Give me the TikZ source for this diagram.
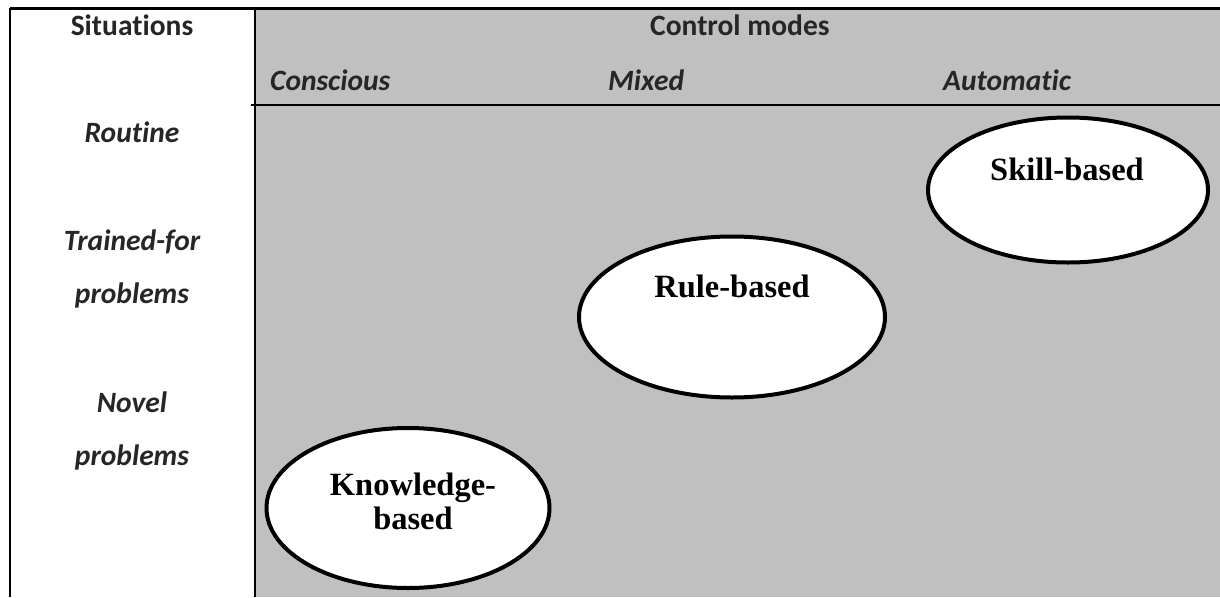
\documentclass[tikz,border=0pt]{standalone}
\usepackage{fontspec}
\setmainfont{Carlito}[Ligatures=NoCommon]
\newfontfamily\timesfont{Liberation Serif}
\usetikzlibrary{shapes.geometric}
\definecolor{cellgray}{HTML}{C0C0C0}
\definecolor{txtgray}{HTML}{262626}
\newcommand\nolig{\kern0pt }
\tikzset{
  hdr/.style={anchor=base, text=txtgray, inner sep=0pt, font=\fontsize{29.5}{32}\selectfont\bfseries},
  itl/.style={anchor=base, text=txtgray, inner sep=0pt, font=\fontsize{29.5}{32}\selectfont\bfseries\itshape},
  oval/.style={ellipse, draw=black, line width=4pt, fill=white, inner sep=0pt},
  ovaltext/.style={anchor=base, inner sep=0pt, align=center, font=\fontsize{32.5}{30}\selectfont\timesfont\bfseries},
  rule/.style={line width=2pt, black}
}
\begin{document}
\begin{tikzpicture}[x=1pt,y=-1pt]
\useasboundingbox (0,0) rectangle (1220,597);
\fill[white] (0,0) rectangle (1220,597);
\fill[cellgray] (255,8) rectangle (1220,597);
% grid lines
\coordinate (tl) at (10,8);
\coordinate (tr) at (1220,8);
\coordinate (bl) at (10,597);
\coordinate (dt) at (255,8);
\coordinate (db) at (255,597);
\coordinate (hl) at (251,105);
\coordinate (hr) at (1220,105);
\draw[line width=3pt] (tl) -- (tr);
\draw[rule] (tl) -- (bl);
\draw[rule] (dt) -- (db);
\draw[rule] (hl) -- (hr);
% header texts
\node[hdr] (sit) at (132,35) {Situat\nolig ions};
\node[hdr, anchor=base west] (ctl) at (650,35) {Control modes};
\node[itl, anchor=base west] (con) at (270,90) {Conscious};
\node[itl, anchor=base west] (mix) at (608,90) {Mixed};
\node[itl, anchor=base west] (aut) at (943,90) {Automat\nolig ic};
% row texts
\node[itl] (rou) at (132,142) {Routine};
\node[itl] (tra) at (132,250) {Trained-for};
\node[itl] (pr1) at (132,303) {problems};
\node[itl] (nov) at (132,412) {Novel};
\node[itl] (pr2) at (132,465) {problems};
% ellipses
\node[oval, minimum width=280pt, minimum height=145pt] (skill) at (1068,190) {};
\node[ovaltext] (skillt) at (1067,180) {Skill-based};
\node[oval, minimum width=306pt, minimum height=161pt] (rule) at (732,317) {};
\node[ovaltext] (rulet) at (732,297) {Rule-based};
\node[oval, minimum width=283pt, minimum height=160pt] (know) at (408,508) {};
\node[ovaltext] (knowt1) at (413,495) {Knowledge-};
\node[ovaltext] (knowt2) at (413,529) {based};
\end{tikzpicture}
\end{document}
